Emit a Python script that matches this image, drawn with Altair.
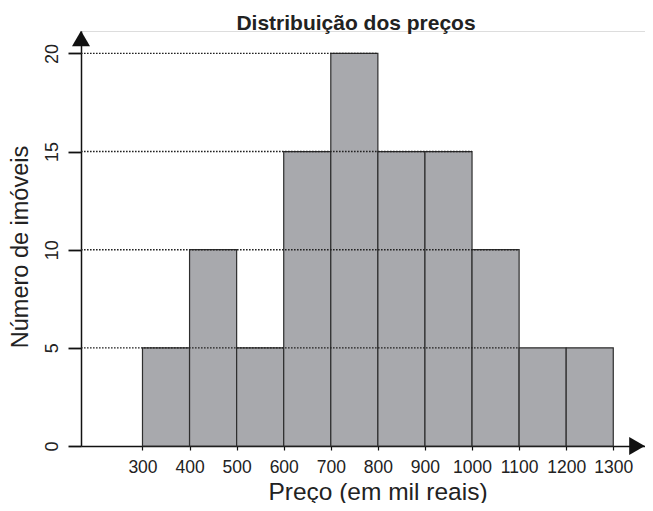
import altair as alt
import pandas as pd

# ---- data ----
bin_start = [300, 400, 500, 600, 700, 800, 900, 1000, 1100, 1200]
bin_end = [400, 500, 600, 700, 800, 900, 1000, 1100, 1200, 1300]
counts = [5, 10, 5, 15, 20, 15, 15, 10, 5, 5]
ref_levels = [5, 10, 15, 20]
ref_ends = [1100, 1100, 1000, 800]
x_ticks = [300, 400, 500, 600, 700, 800, 900, 1000, 1100, 1200, 1300]
y_ticks = [0, 5, 10, 15, 20]

X_MIN, X_MAX = 169.4, 1367.4
Y_MIN, Y_MAX = 0, 21.14
FONT = "Liberation Sans"

bars_df = pd.DataFrame({"start": bin_start, "end": bin_end, "count": counts})
refs_df = pd.DataFrame({"level": ref_levels, "end": ref_ends, "start": [X_MIN] * len(ref_levels)})
arrow_up_df = pd.DataFrame({"x": [X_MIN], "y": [20.76]})
arrow_right_df = pd.DataFrame({"x": [1350.4], "y": [0]})

xscale = alt.Scale(domain=[X_MIN, X_MAX], nice=False, zero=False)
yscale = alt.Scale(domain=[Y_MIN, Y_MAX], nice=False, zero=False)

bars = alt.Chart(bars_df).mark_rect(
    fill="#a8a9ad", stroke="#2e2e2e", strokeWidth=1.2
).encode(
    x=alt.X("start:Q", scale=xscale, axis=alt.Axis(
        values=x_ticks, format="d", title="Preço (em mil reais)", grid=False,
        domain=True, domainColor="#111", domainWidth=1.5,
        ticks=True, tickSize=4, tickWidth=1.2, tickColor="#111",
        labelFont=FONT, labelFontSize=17.5, labelColor="#222",
        labelBaseline="top", labelPadding=8, labelFlush=False, labelOverlap=False,
        titleFont=FONT, titleFontSize=24.5, titleFontWeight="normal", titleColor="#222",
        titleX=296.5, titleY=53, titleAlign="center", titleBaseline="alphabetic",
    )),
    x2="end:Q",
    y=alt.Y("count:Q", scale=yscale, axis=alt.Axis(
        values=y_ticks, format="d", title="Número de imóveis", grid=False,
        domain=True, domainColor="#111", domainWidth=1.5,
        ticks=True, tickSize=13, tickWidth=1.8, tickColor="#111",
        labelFont=FONT, labelFontSize=18, labelColor="#222",
        labelAngle=270, labelAlign="center", labelBaseline="middle", labelPadding=16,
        labelFlush=False, labelOverlap=False,
        titleFont=FONT, titleFontSize=23.5, titleFontWeight="normal", titleColor="#222",
        titleAngle=270, titleX=-54, titleY=215.5, titleAlign="center", titleBaseline="alphabetic",
    )),
    y2=alt.datum(0),
)

refs = alt.Chart(refs_df).mark_rule(
    color="#222", strokeWidth=1.4, strokeDash=[1.6, 1.4]
).encode(
    x=alt.X("start:Q", scale=xscale),
    x2="end:Q",
    y=alt.Y("level:Q", scale=yscale),
)

arrow_up = alt.Chart(arrow_up_df).mark_point(
    shape="triangle-up", size=324, filled=True, color="#111", opacity=1
).encode(x=alt.X("x:Q", scale=xscale), y=alt.Y("y:Q", scale=yscale))

arrow_right = alt.Chart(arrow_right_df).mark_point(
    shape="triangle-right", size=324, filled=True, color="#111", opacity=1
).encode(x=alt.X("x:Q", scale=xscale), y=alt.Y("y:Q", scale=yscale))

chart = alt.layer(bars, refs, arrow_up, arrow_right).properties(
    width=564, height=415,
    padding={"left": 73, "top": 23, "right": 0, "bottom": 57},
    autosize=alt.AutoSizeParams(type="none"),
    title=alt.TitleParams(
        "Distribuição dos preços", font=FONT, fontSize=21, fontWeight="bold",
        color="#222", anchor="middle", frame="group", dx=-7, dy=22, offset=2,
        baseline="alphabetic",
    ),
).configure_view(stroke=None).configure(background="white")

chart.save("out.html", embed_options={"renderer": "svg", "actions": False})
